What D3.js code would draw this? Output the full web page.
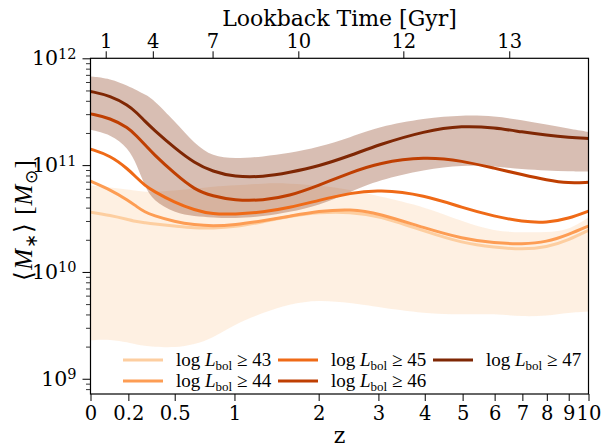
<!DOCTYPE html>
<html>
<head>
<meta charset="utf-8">
<script src="https://cdn.jsdelivr.net/npm/d3@7"></script>
<style>
  body { margin: 0; background: #fff; }
  text { font-family: "DejaVu Serif", serif; fill: #000; }
  .math { font-family: "Liberation Serif", serif; }
</style>
</head>
<body>
<div id="chart"></div>
<script>
//Redshift grid shared by every curve
var zGrid = [0, 0.1, 0.2, 0.25, 0.3, 0.35, 0.5, 0.65, 0.8, 1, 1.3, 1.6, 2, 2.5, 3, 4, 5, 6, 7, 8, 9, 10];

//log10 of the mean stellar mass for each luminosity cut
var mass43 = [10.56, 10.53, 10.49, 10.47, 10.46, 10.45, 10.43, 10.41, 10.41, 10.42, 10.47, 10.52, 10.56, 10.56, 10.53, 10.38, 10.27, 10.23, 10.21, 10.23, 10.30, 10.39];
var mass44 = [10.85, 10.77, 10.67, 10.61, 10.56, 10.53, 10.47, 10.44, 10.43, 10.44, 10.48, 10.52, 10.57, 10.59, 10.55, 10.41, 10.31, 10.27, 10.26, 10.28, 10.35, 10.43];
var mass45 = [11.15, 11.09, 10.96, 10.88, 10.81, 10.76, 10.65, 10.58, 10.54, 10.54, 10.56, 10.60, 10.67, 10.74, 10.77, 10.72, 10.60, 10.52, 10.47, 10.46, 10.50, 10.57];
var mass46 = [11.48, 11.44, 11.35, 11.27, 11.19, 11.11, 10.92, 10.77, 10.71, 10.67, 10.67, 10.71, 10.81, 10.93, 11.02, 11.08, 11.04, 10.97, 10.91, 10.86, 10.83, 10.84];
var mass47 = [11.69, 11.65, 11.56, 11.49, 11.41, 11.34, 11.16, 11.02, 10.94, 10.89, 10.89, 10.93, 10.99, 11.09, 11.19, 11.32, 11.37, 11.35, 11.31, 11.28, 11.26, 11.25];

//Scatter bands (log10) for the faintest and brightest cuts
var band43Low = [9.36, 9.37, 9.34, 9.32, 9.31, 9.30, 9.29, 9.32, 9.38, 9.51, 9.62, 9.70, 9.74, 9.71, 9.67, 9.61, 9.60, 9.61, 9.58, 9.59, 9.62, 9.63];
var band43High = [10.81, 10.79, 10.77, 10.76, 10.75, 10.75, 10.76, 10.78, 10.80, 10.81, 10.83, 10.83, 10.81, 10.77, 10.71, 10.61, 10.47, 10.38, 10.37, 10.37, 10.39, 10.51];
var band47Low = [11.33, 11.29, 11.16, 11.00, 10.80, 10.67, 10.55, 10.52, 10.51, 10.50, 10.52, 10.56, 10.62, 10.75, 10.86, 10.96, 11.00, 10.99, 10.96, 10.95, 10.94, 10.94];
var band47High = [11.83, 11.81, 11.74, 11.70, 11.66, 11.62, 11.41, 11.20, 11.08, 11.06, 11.08, 11.11, 11.17, 11.26, 11.36, 11.44, 11.47, 11.46, 11.42, 11.38, 11.34, 11.31];

var lumCuts = [43, 44, 45, 46, 47];
var zTicks = [0, 0.2, 0.5, 1, 2, 3, 4, 5, 6, 7, 8, 9, 10];
var lookbackTicks = [1, 4, 7, 10, 12, 13];
var lookbackZ = [0.076, 0.35, 0.80, 1.72, 3.51, 6.51];
var massTicks = [9, 10, 11, 12];

//Set up the width, height, and plot edges
var width = 602;
var height = 448;
var plotL = 90.5, plotR = 588.5, plotT = 58.3, plotB = 394;

var svg = d3
  .select("#chart")
  .append("svg")
  .attr("width", width)
  .attr("height", height);

//x uses log(1+z), y is log mass
var x = d3.scaleLog().domain([1, 11]).range([plotL, plotR]);
var y = d3.scaleLog().domain([7.2e8, 1e12]).range([plotB, plotT]);

var colors = lumCuts.map(function(d, i) {
  return d3.interpolateOranges(0.25 + i * 0.1875);
});

svg.append("clipPath")
  .attr("id", "clip")
  .append("rect")
  .attr("x", plotL)
  .attr("y", plotT)
  .attr("width", plotR - plotL)
  .attr("height", plotB - plotT);

var plot = svg.append("g").attr("clip-path", "url(#clip)");

function toRows(lo, hi) {
  return zGrid.map(function(z, i) {
    return { z: z, lo: lo[i], hi: hi[i] };
  });
}

var area = d3.area()
  .x(function(d) { return x(1 + d.z); })
  .y0(function(d) { return y(Math.pow(10, d.lo)); })
  .y1(function(d) { return y(Math.pow(10, d.hi)); })
  .curve(d3.curveBasis);

plot.append("path")
  .datum(toRows(band43Low, band43High))
  .attr("d", area)
  .attr("fill", colors[0])
  .attr("fill-opacity", 0.3);

plot.append("path")
  .datum(toRows(band47Low, band47High))
  .attr("d", area)
  .attr("fill", colors[4])
  .attr("fill-opacity", 0.3);

var line = d3.line()
  .x(function(d) { return x(1 + d.z); })
  .y(function(d) { return y(Math.pow(10, d.m)); })
  .curve(d3.curveBasis);

[mass43, mass44, mass45, mass46, mass47].forEach(function(series, i) {
  plot.append("path")
    .datum(zGrid.map(function(z, j) { return { z: z, m: series[j] }; }))
    .attr("d", line)
    .attr("fill", "none")
    .attr("stroke", colors[i])
    .attr("stroke-width", 3);
});

//Bottom axis
var xAxis = svg.append("g")
  .attr("transform", "translate(0," + plotB + ")")
  .call(d3.axisBottom(x)
    .tickValues(zTicks.map(function(z) { return 1 + z; }))
    .tickFormat(function(d) { return d3.format("~g")(+(d - 1).toFixed(2)); })
    .tickSize(7)
    .tickSizeOuter(0)
    .tickPadding(5));
xAxis.select(".domain").remove();
xAxis.selectAll("text").style("font-size", "19.5px").attr("font-family", null);

//Top axis, lookback time
var topAxis = svg.append("g")
  .attr("transform", "translate(0," + plotT + ")")
  .call(d3.axisTop(x)
    .tickValues(lookbackZ.map(function(z) { return 1 + z; }))
    .tickFormat(function(d, i) { return lookbackTicks[i]; })
    .tickSize(7)
    .tickSizeOuter(0)
    .tickPadding(3));
topAxis.select(".domain").remove();
topAxis.selectAll("text").style("font-size", "19.5px").attr("font-family", null);

//Left axis: minor ticks then majors with 10^n labels
var minor = [];
for (var e = 8; e < 12; e++) {
  for (var k = 2; k < 10; k++) {
    var v = k * Math.pow(10, e);
    if (v >= 7.2e8 && v <= 1e12) minor.push(v);
  }
}
var yMinor = svg.append("g")
  .attr("transform", "translate(" + plotL + ",0)")
  .call(d3.axisLeft(y).tickValues(minor).tickFormat("").tickSize(4.5).tickSizeOuter(0));
yMinor.select(".domain").remove();
yMinor.selectAll("line").attr("stroke-width", 0.8);

var yAxis = svg.append("g")
  .attr("transform", "translate(" + plotL + ",0)")
  .call(d3.axisLeft(y)
    .tickValues(massTicks.map(function(p) { return Math.pow(10, p); }))
    .tickSize(8)
    .tickSizeOuter(0)
    .tickPadding(6));
yAxis.select(".domain").remove();
yAxis.selectAll(".tick text")
  .attr("font-family", null)
  .style("font-size", "20.5px")
  .text(null)
  .each(function(d) {
    var t = d3.select(this);
    t.append("tspan").text("10");
    t.append("tspan")
      .attr("dy", "-0.45em")
      .style("font-size", "14.5px")
      .text(Math.round(Math.log10(d)));
  });

//Frame
svg.append("rect")
  .attr("x", plotL)
  .attr("y", plotT)
  .attr("width", plotR - plotL)
  .attr("height", plotB - plotT)
  .attr("fill", "none")
  .attr("stroke", "#000")
  .attr("stroke-width", 1.2);

//Axis titles
svg.append("text")
  .attr("x", (plotL + plotR) / 2)
  .attr("y", 26)
  .attr("text-anchor", "middle")
  .style("font-size", "22px")
  .text("Lookback Time [Gyr]");

svg.append("text")
  .attr("x", (plotL + plotR) / 2)
  .attr("y", 443)
  .attr("text-anchor", "middle")
  .style("font-size", "22px")
  .text("z");

var yLab = svg.append("text")
  .attr("class", "math")
  .attr("transform", "translate(32," + 220 + ")rotate(-90)")
  .attr("text-anchor", "middle")
  .style("font-size", "25px")
  .style("letter-spacing", "1px");
yLab.append("tspan").text("\u27E8");
yLab.append("tspan").style("font-style", "italic").text("M");
yLab.append("tspan").attr("dy", 5).style("font-size", "17px").text("\u2217");
yLab.append("tspan").attr("dy", -5).text("\u27E9 [");
yLab.append("tspan").style("font-style", "italic").text("M");
yLab.append("tspan").attr("dy", 5).style("font-size", "17px").text("\u2299");
yLab.append("tspan").attr("dy", -5).text("]");

//Legend, three columns filled top to bottom
var legend = svg.append("g").attr("transform", "translate(123,360)");
lumCuts.forEach(function(cut, i) {
  var col = Math.floor(i / 2), row = i % 2;
  var g = legend.append("g")
    .attr("transform", "translate(" + col * 155 + "," + row * 21 + ")");
  g.append("line")
    .attr("x1", 0).attr("x2", 40)
    .attr("stroke", colors[i])
    .attr("stroke-width", 3);
  var t = g.append("text")
    .attr("class", "math")
    .attr("x", 53)
    .attr("y", 6)
    .style("font-size", "19px");
  t.append("tspan").text("log ");
  t.append("tspan").style("font-style", "italic").text("L");
  t.append("tspan").attr("dy", 4).style("font-size", "13px").text("bol");
  t.append("tspan").attr("dy", -4).text(" \u2265 " + cut);
});
</script>
</body>
</html>
